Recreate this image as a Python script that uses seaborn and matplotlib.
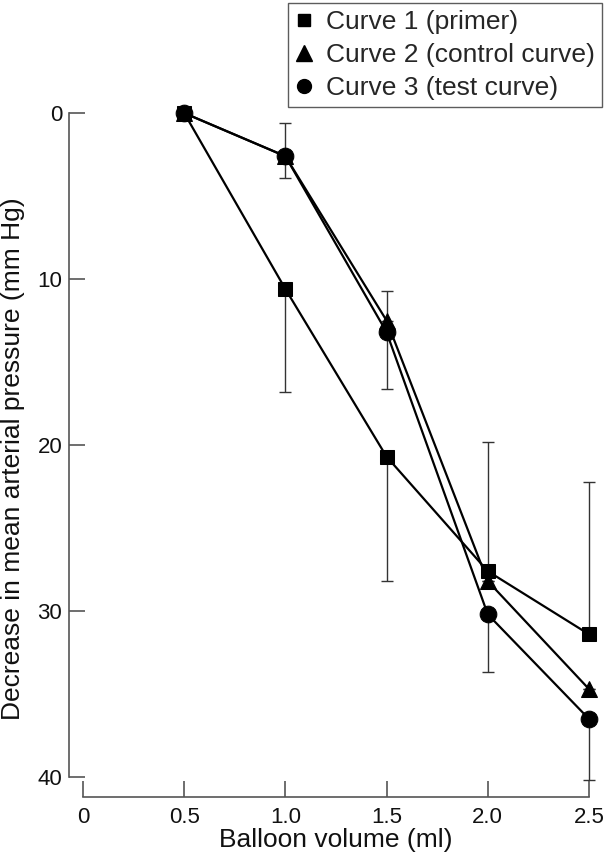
import numpy as np
import pandas as pd
import matplotlib
matplotlib.use("Agg")
import matplotlib.pyplot as plt
from matplotlib.lines import Line2D
import seaborn as sns

# DATA
volume = [0.5, 1.0, 1.5, 2.0, 2.5]
curve_names = ["Curve 1 (primer)", "Curve 2 (control curve)", "Curve 3 (test curve)"]

primer = [0.0, 10.6, 20.7, 27.6, 31.4]
control = [0.0, 2.6, 12.5, 28.2, 34.7]
test = [0.0, 2.6, 13.2, 30.2, 36.5]

# error bars: amount towards smaller values (up) and larger values (down)
primer_err_up = [0.0, 0.0, 0.0, 7.8, 9.2]
primer_err_down = [0.0, 6.2, 7.5, 0.0, 0.0]
control_err_up = [0.0, 2.0, 1.8, 0.0, 0.0]
control_err_down = [0.0, 0.0, 0.0, 0.0, 0.0]
test_err_up = [0.0, 0.0, 0.0, 0.0, 0.0]
test_err_down = [0.0, 1.3, 3.4, 3.45, 3.7]

x_ticks = [0, 0.5, 1.0, 1.5, 2.0, 2.5]
x_tick_labels = ["0", "0.5", "1.0", "1.5", "2.0", "2.5"]
y_ticks = [0, 10, 20, 30, 40]

df = pd.DataFrame({
    "volume": volume * 3,
    "decrease": primer + control + test,
    "curve": [n for n in curve_names for _ in volume],
})

sns.set_style("ticks")
plt.rcParams["font.family"] = ["Liberation Sans", "DejaVu Sans"]

fig = plt.figure(figsize=(6.04, 8.52), dpi=100)
ax = fig.add_axes([0.1374, 0.0880, 0.8377, 0.7793])

markers = {curve_names[0]: "s", curve_names[1]: "^", curve_names[2]: "o"}
marker_sizes = {"s": 10, "^": 12, "o": 12}

# error bars first, so markers sit on top
errs = [
    (primer, primer_err_up, primer_err_down),
    (control, control_err_up, control_err_down),
    (test, test_err_up, test_err_down),
]
for vals, up, down in errs:
    ax.errorbar(volume, vals, yerr=[up, down], fmt="none", ecolor="#333333",
                elinewidth=1.0, capsize=4.5, capthick=1.0, clip_on=False, zorder=2)

sns.lineplot(data=df, x="volume", y="decrease", style="curve", markers=markers,
             dashes=False, color="black", linewidth=1.6, markersize=10,
             markeredgecolor="black", legend=False, ax=ax, zorder=3)
for line in ax.lines:
    line.set_clip_on(False)
    m = line.get_marker()
    if m in marker_sizes:
        line.set_markersize(marker_sizes[m])

ax.set_xlim(0, 2.5)
ax.set_ylim(40, 0)
ax.set_xticks(x_ticks)
ax.set_xticklabels(x_tick_labels)
ax.set_yticks(y_ticks)

for side in ["top", "right"]:
    ax.spines[side].set_visible(False)
ax.spines["left"].set_position(("outward", 10))
ax.spines["bottom"].set_position(("outward", 14.4))
ax.spines["left"].set_bounds(0, 40)
ax.spines["bottom"].set_bounds(0, 2.5)
for side in ["left", "bottom"]:
    ax.spines[side].set_color("#555555")
    ax.spines[side].set_linewidth(1.2)

ax.tick_params(direction="in", length=11.5, width=1.2, color="#555555",
               labelsize=16, labelcolor="#111111", pad=5)
ax.tick_params(axis="x", pad=7)

ax.set_xlabel("Balloon volume (ml)", fontsize=19, color="#111111", labelpad=0)
ax.set_ylabel("Decrease in mean arterial pressure (mm Hg)", fontsize=19,
              color="#111111")
ax.yaxis.set_label_coords(-0.115, 0.479)

handles = [
    Line2D([], [], linestyle="none", marker="s", color="black", markersize=9),
    Line2D([], [], linestyle="none", marker="^", color="black", markersize=11),
    Line2D([], [], linestyle="none", marker="o", color="black", markersize=10),
]
fig.legend(handles, curve_names, loc="lower left", bbox_to_anchor=(0.477, 0.8744),
           frameon=True, fancybox=False, edgecolor="#333333", fontsize=19,
           handlelength=0.7, handletextpad=0.5, labelspacing=0.35,
           borderpad=0.25, borderaxespad=0.0)

fig.savefig("out.png", dpi=100)
